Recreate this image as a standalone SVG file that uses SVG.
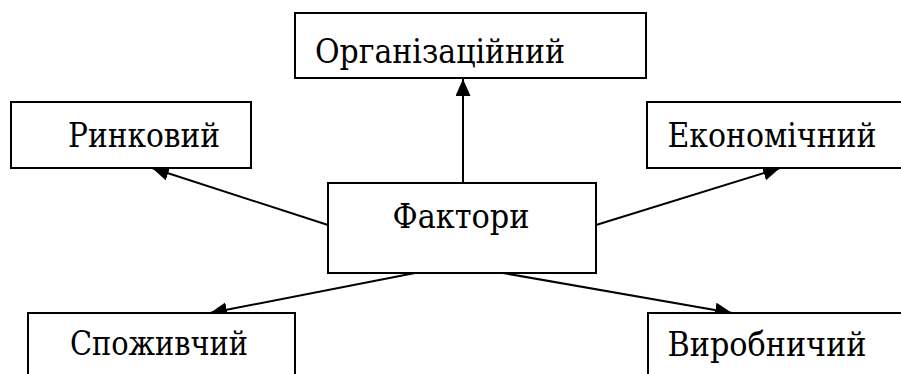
<svg xmlns="http://www.w3.org/2000/svg" width="901" height="374" viewBox="0 0 901 374">
  <defs>
    <marker id="arrow" markerUnits="userSpaceOnUse" markerWidth="18" markerHeight="16" refX="17" refY="7.5" orient="auto">
      <path d="M0,0 L17,7.5 L0,15 Z" fill="#000"/>
    </marker>
    <style>
      .box { fill: #fff; stroke: #000; stroke-width: 2; }
      .lbl { font-family: 'DejaVu Serif Condensed', 'DejaVu Serif', 'Liberation Serif', serif; font-stretch: condensed; font-size: 34px; fill: #000; text-anchor: middle; }
      .conn { stroke: #000; stroke-width: 2; fill: none; marker-end: url(#arrow); }
    </style>
  </defs>
  <rect width="901" height="374" fill="#fff"/>
  <g id="connectors">
    <line class="conn" x1="463" y1="183" x2="463" y2="79"/>
    <line class="conn" x1="328" y1="225" x2="152" y2="168"/>
    <line class="conn" x1="596" y1="225" x2="780" y2="168"/>
    <line class="conn" x1="415" y1="273" x2="210" y2="313"/>
    <line class="conn" x1="503" y1="273" x2="732" y2="313"/>
  </g>
  <g id="organizatsiinyi">
    <rect class="box" x="295" y="13" width="351" height="65"/>
    <text class="lbl" x="440" y="63" textLength="250" lengthAdjust="spacingAndGlyphs">Організаційний</text>
  </g>
  <g id="rynkovyi">
    <rect class="box" x="11" y="102" width="240" height="66"/>
    <text class="lbl" x="144" y="147" textLength="152" lengthAdjust="spacingAndGlyphs">Ринковий</text>
  </g>
  <g id="ekonomichnyi">
    <rect class="box" x="647" y="102" width="270" height="66"/>
    <text class="lbl" x="772" y="147" textLength="209" lengthAdjust="spacingAndGlyphs">Економічний</text>
  </g>
  <g id="faktory">
    <rect class="box" x="328" y="183" width="268" height="90"/>
    <text class="lbl" x="461" y="228" textLength="137" lengthAdjust="spacingAndGlyphs">Фактори</text>
  </g>
  <g id="spozhyvchyi">
    <rect class="box" x="28" y="313" width="267" height="75"/>
    <text class="lbl" x="159" y="355" textLength="178" lengthAdjust="spacingAndGlyphs">Споживчий</text>
  </g>
  <g id="vyrobnychyi">
    <rect class="box" x="648" y="313" width="270" height="75"/>
    <text class="lbl" x="767" y="356" textLength="199" lengthAdjust="spacingAndGlyphs">Виробничий</text>
  </g>
</svg>
